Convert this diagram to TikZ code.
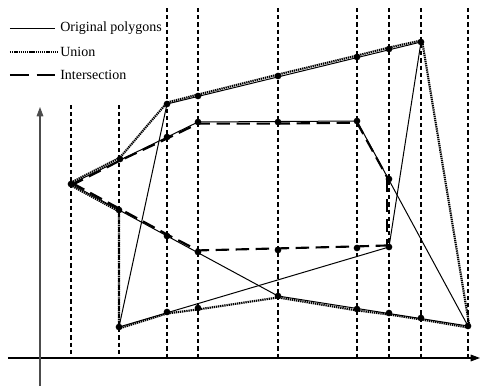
\documentclass[tikz,border=0pt]{standalone}
\usepackage{fontspec}
\setmainfont{Liberation Serif}
\usetikzlibrary{arrows.meta}
\begin{document}
\begin{tikzpicture}[x=0.75pt,y=-0.75pt,
  poly/.style={line width=0.75pt},
  uni/.style={line width=1.6pt,dash pattern=on 1pt off 0.6pt},
  inter/.style={line width=1.6pt,dash pattern=on 10pt off 5pt},
  sweep/.style={line width=1pt,dash pattern=on 3.2pt off 2.2pt},
  pt/.style={circle,fill=black,inner sep=0pt,minimum size=5pt},
  axis/.style={line width=0.8pt,-{Triangle[length=7pt,width=5pt]}},
  lab/.style={anchor=west,inner sep=0pt,font=\fontsize{10.5}{12}\selectfont}]
\useasboundingbox (0,0) rectangle (480,387);
% sweep lines
\foreach \x/\t in {71/105,119/105,167/8,198/8,278/8,357/8,389/8,421/8,468/8}
  \draw[sweep] (\x,\t) -- (\x,358);
% axes
\coordinate (xs) at (8,358); \coordinate (xe) at (480,358);
\coordinate (ys) at (40,386); \coordinate (ye) at (40,107);
\draw[axis] (xs) -- (xe);
\draw[axis,black!70] (ys) -- (ye);
% vertices
\coordinate (L) at (71,184);
\coordinate (A) at (167,104);
\coordinate (B) at (421,42);
\coordinate (C) at (389,247);
\coordinate (D) at (119,327);
\coordinate (E) at (198,122);
\coordinate (F) at (357,121);
\coordinate (G) at (468,326);
\coordinate (H) at (278,296);
% sweep intersection points
\coordinate (U1) at (120,159);
\coordinate (W1) at (119,210);
\coordinate (A2) at (198,96);
\coordinate (A3) at (278,76);
\coordinate (A4) at (357,57);
\coordinate (A5) at (389,49);
\coordinate (I1) at (167,137);
\coordinate (I2) at (278,122);
\coordinate (I3) at (389,179);
\coordinate (J1) at (357,248);
\coordinate (J2) at (278,250);
\coordinate (J3) at (198,252);
\coordinate (J4) at (167,236);
\coordinate (G1) at (357,309);
\coordinate (G2) at (389,313);
\coordinate (G3) at (421,318);
\coordinate (D1) at (167,312);
\coordinate (D2) at (198,308);
% original polygons
\draw[poly] (A) -- (B) -- (C) -- (D) -- cycle;
\draw[poly] (L) -- (E) -- (F) -- (G) -- (H) -- cycle;
% union
\draw[uni,transform canvas={yshift=1.1pt}] (L) -- (U1) -- (A) -- (A2) -- (A3) -- (A4) -- (A5) -- (B);
\draw[uni,transform canvas={xshift=1pt}] (B) -- (G);
\draw[uni,transform canvas={yshift=-1.1pt}] (G) -- (G3) -- (G2) -- (G1) -- (H) -- (D2) -- (D1) -- (D);
\draw[uni,transform canvas={yshift=-1.1pt}] (D) -- (W1) -- (L);
% intersection
\draw[inter,transform canvas={yshift=-1.2pt}] (L) -- (U1) -- (I1) -- (E) -- (I2) -- (F) -- (I3);
\draw[inter,transform canvas={xshift=-1.4pt}] (I3) -- (C);
\draw[inter,transform canvas={yshift=1.2pt}] (C) -- (J1) -- (J2) -- (J3) -- (J4) -- (W1) -- (L);
% dots
\foreach \p in {L,A,B,C,D,E,F,G,H,U1,W1,A2,A3,A4,A5,I1,I2,I3,J1,J2,J3,J4,G1,G2,G3,D1,D2}
  \node[pt] (d\p) at (\p) {};
% legend
\coordinate (l1a) at (10,28); \coordinate (l1b) at (55,28);
\coordinate (l2a) at (10,52); \coordinate (l2b) at (57,52);
\coordinate (l3a) at (10,75); \coordinate (l3b) at (57,75);
\draw[poly] (l1a) -- (l1b);
\draw[uni] (l2a) -- (l2b);
\draw[line width=1.5pt,dash pattern=on 14pt off 6pt] (l3a) -- (l3b);
\node[lab] (t1) at (60,28) {Original polygons};
\node[lab] (t2) at (60,52) {Union};
\node[lab] (t3) at (60,75) {Intersection};
\end{tikzpicture}
\end{document}
